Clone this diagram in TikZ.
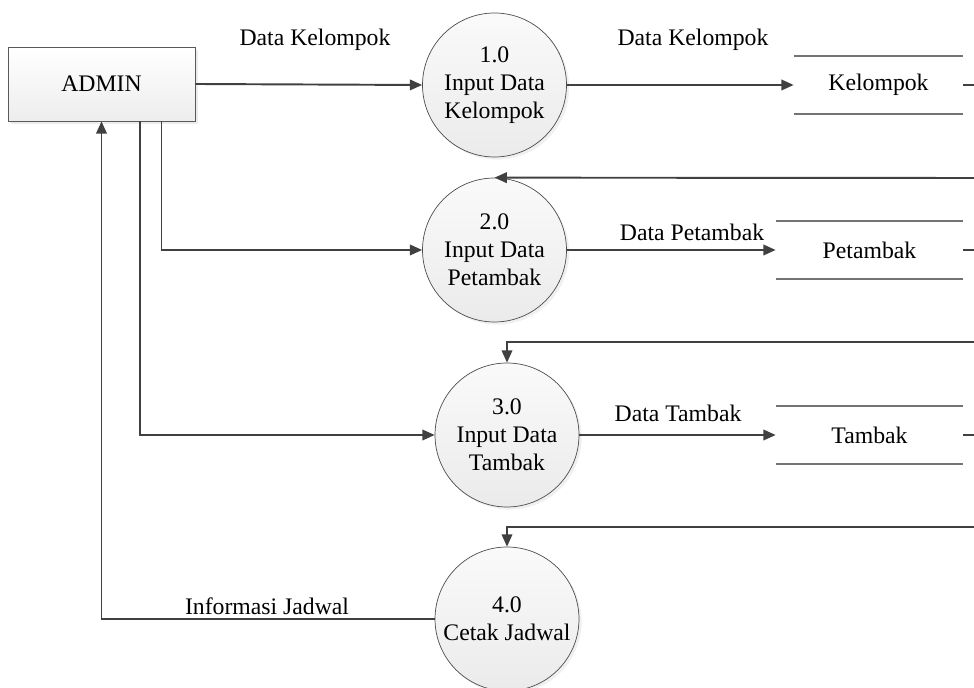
\documentclass[tikz,border=0pt]{standalone}
\usepackage{fontspec}
\setmainfont{Liberation Serif}
\usetikzlibrary{arrows.meta, shadows}

\begin{document}
\begin{tikzpicture}[x=0.02cm, y=-0.02cm,
  font=\fontsize{13.5}{16}\selectfont,
  ent/.style={rectangle, draw=black!65, minimum width=3.74cm, minimum height=1.48cm,
              top color=white, bottom color=black!7,
              drop shadow={shadow xshift=1.5pt, shadow yshift=-1.5pt, opacity=.15}},
  proc/.style={circle, draw=black!70, minimum size=2.88cm, align=center, inner sep=0pt,
               top color=black!2, bottom color=black!8,
               drop shadow={shadow xshift=1.5pt, shadow yshift=-1.5pt, opacity=.12}},
  store/.style={minimum width=3.74cm, minimum height=1.14cm},
  flow/.style={draw=black!75, line width=1.1pt, -{Triangle[length=7pt, width=6pt]}},
  link/.style={draw=black!75, line width=1.1pt}
]
\useasboundingbox (0,0) rectangle (974,688);
\clip (0,0) rectangle (974,688);

% Entity and processes
\node[ent]  at (101.5,84) (admin) {ADMIN};
\node[proc] at (494.5,85) (p1) {1.0\\Input Data\\Kelompok};
\node[proc] at (494.5,250) (p2) {2.0\\Input Data\\Petambak};
\node[proc] at (507,435) (p3) {3.0\\Input Data\\Tambak};
\node[proc] at (507,619) (p4) {4.0\\Cetak Jadwal};

% Data stores
\node[store, minimum width=3.38cm] at (878.5,85) (s1) {Kelompok};
\node[store] at (869.5,250) (s2) {Petambak};
\node[store] at (869.5,435) (s3) {Tambak};
\foreach \s in {s1,s2,s3}
  \draw[black!55, line width=0.9pt] (\s.north west) -- (\s.north east)
                                    (\s.south west) -- (\s.south east);

% Right edge
\coordinate (edge) at (974,0);
\coordinate (r1) at (974,178);
\coordinate (r2) at (974,342);
\coordinate (r3) at (974,527);

% Flows
\draw[flow] (admin.east) -- (p1.west);
\draw[flow] ([xshift=1.2cm]admin.south) |- (p2.west);
\draw[flow] ([xshift=0.77cm]admin.south) |- (p3.west);
\draw[flow] (p4.west) -| (admin.south);
\draw[flow] (p1) -- (s1);
\draw[flow] (p2) -- (s2);
\draw[flow] (p3) -- (s3);
\draw[flow] (r1) -- (p2.north);
\draw[flow] (r2) -| (p3.north);
\draw[flow] (r3) -| (p4.north);
\foreach \s in {s1,s2,s3}
  \draw[link] (\s.east) -- (\s.east -| edge);

% Flow labels
\node at (315,40)  (l1) {Data Kelompok};
\node at (693,40)  (l2) {Data Kelompok};
\node at (692,232) (l3) {Data Petambak};
\node at (678,413) (l4) {Data Tambak};
\node at (267,606) (l5) {Informasi Jadwal};
\end{tikzpicture}
\end{document}
